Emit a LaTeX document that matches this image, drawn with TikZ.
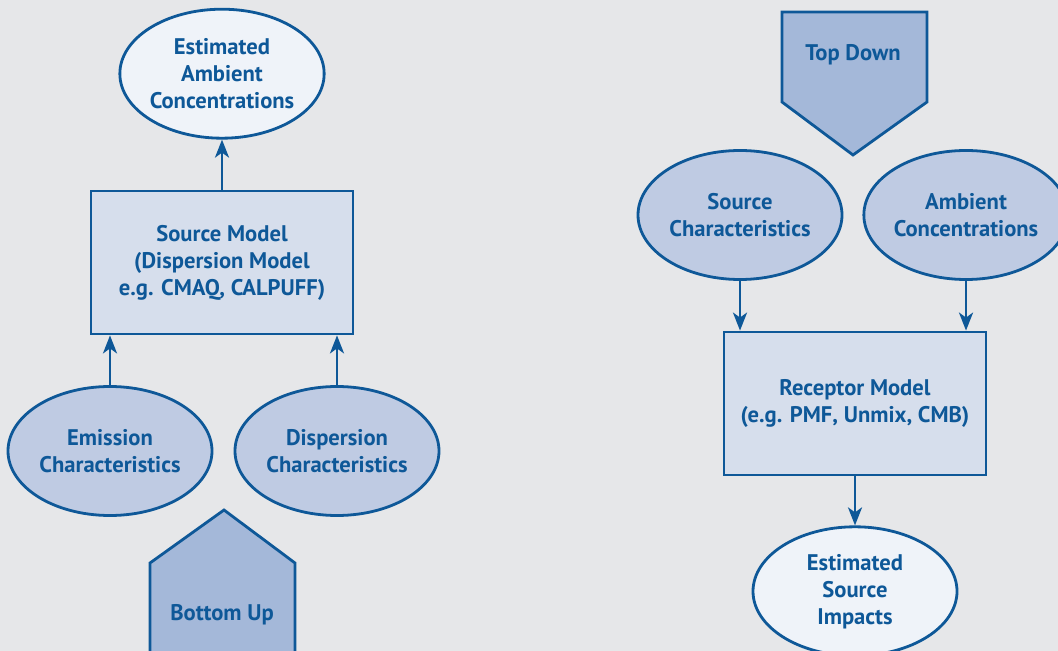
\documentclass[tikz,border=0pt]{standalone}
\usepackage{fontspec}
\setmainfont{PT Sans}
\usetikzlibrary{arrows.meta,positioning,shapes.geometric}
\definecolor{bgc}{HTML}{E6E7E9}
\definecolor{ink}{HTML}{0E5898}
\definecolor{infill}{HTML}{BFCBE3}
\definecolor{modfill}{HTML}{D6DEEC}
\definecolor{dirfill}{HTML}{A4B8D9}
\definecolor{outfill}{HTML}{EFF3F9}
\tikzset{
  lbl/.style={text=ink,font=\fontsize{11.3}{13.5}\selectfont\bfseries,align=center},
  inell/.style={lbl,ellipse,draw=ink,line width=1.4pt,fill=infill,minimum width=102pt,minimum height=64.5pt,inner sep=0pt},
  outell/.style={inell,fill=outfill},
  model/.style={lbl,rectangle,draw=ink,line width=1.4pt,fill=modfill,minimum width=131pt,minimum height=71.5pt},
  dirshape/.style={draw=ink,line width=1.4pt,fill=dirfill,line join=miter},
  signal/.style={-{Stealth[length=9pt,width=7pt,inset=2.5pt]},draw=ink,line width=1.4pt}
}

\begin{document}
\begin{tikzpicture}[x=0.5pt,y=-0.5pt]

\fill[bgc] (0,0) rectangle (1058,651);
\useasboundingbox (0,0) rectangle (1058,651);
\clip (0,0) rectangle (1058,651);

% bottom up side
\node[model] (srcmodel) at (222,262.5) {Source Model\\(Dispersion Model\\e.g. CMAQ, CALPUFF)};
\node[outell,above=25pt of srcmodel] (estamb) {Estimated\\Ambient\\Concentrations};
\node[inell] (emission) at (110,451) {Emission\\Characteristics};
\node[inell] (dispersion) at (337,451) {Dispersion\\Characteristics};

\draw[dirshape] (150,670) -- (150,563) -- (224,510) -- (295,563) -- (295,670);
\node[lbl] (bottomup) at (222,615) {Bottom Up};

\draw[signal] (srcmodel.north) -- (estamb.south);
\draw[signal] (emission.north) -- (emission.north |- srcmodel.south);
\draw[signal] (dispersion.north) -- (dispersion.north |- srcmodel.south);

% top down side
\draw[dirshape] (782,12) -- (927,12) -- (927,102) -- (853,155) -- (782,102) -- cycle;
\node[lbl] (topdown) at (853,55) {Top Down};

\node[inell] (srcchar) at (740,215) {Source\\Characteristics};
\node[inell] (ambconc) at (966,215) {Ambient\\Concentrations};
\node[model] (receptor) at (855,403.5) {Receptor Model\\(e.g. PMF, Unmix, CMB)};
\node[outell,below=24.5pt of receptor] (estimpact) {Estimated\\Source\\Impacts};

\draw[signal] (srcchar.south) -- (srcchar.south |- receptor.north);
\draw[signal] (ambconc.south) -- (ambconc.south |- receptor.north);
\draw[signal] (receptor.south) -- (estimpact.north);

\end{tikzpicture}
\end{document}
